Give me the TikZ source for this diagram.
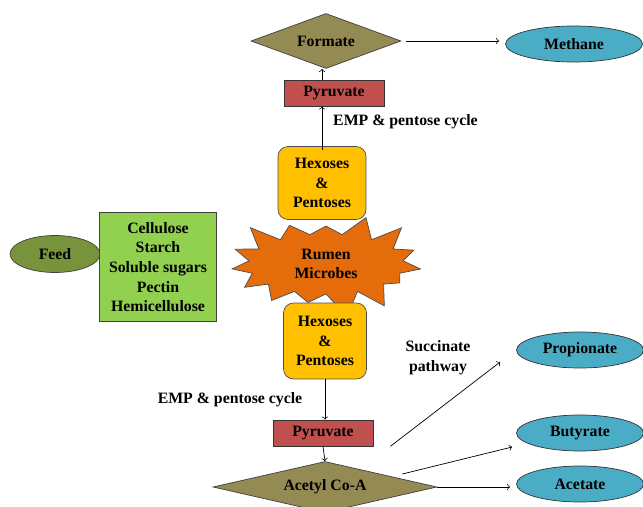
\documentclass[tikz,border=0pt]{standalone}
\usepackage{fontspec}
\setmainfont{Liberation Serif}
\usepackage{tikz}
\usetikzlibrary{shapes.geometric}
\usetikzlibrary{shapes.symbols}
\usetikzlibrary{calc}
\definecolor{tan}{HTML}{948A54}
\definecolor{aqua}{HTML}{4BACC6}
\definecolor{brick}{HTML}{C0504D}
\definecolor{gold}{HTML}{FFC000}
\definecolor{burnt}{HTML}{E46C0A}
\definecolor{olivedark}{HTML}{77933C}
\definecolor{leaf}{HTML}{92D050}
\tikzset{
  every node/.style={font=\fontsize{9}{11.2}\selectfont\bfseries, align=center},
  gem/.style={diamond, draw=black!75, fill=tan, inner sep=0pt},
  product/.style={ellipse, draw=black!80, fill=aqua, inner sep=0pt,
    minimum width=2.54cm, minimum height=0.72cm},
  acid/.style={rectangle, draw=black!80, fill=brick, inner sep=0pt,
    minimum width=2cm, minimum height=0.52cm},
  sugar/.style={rectangle, rounded corners=0.2cm, draw=black!70, fill=gold,
    inner sep=0pt, minimum width=1.7cm, minimum height=1.5cm},
  flow/.style={->, thin, black}
}

\begin{document}
\begin{tikzpicture}[x=0.02cm, y=-0.02cm]
      \useasboundingbox (0,0) rectangle (643,507);
      % upper branch
      \node[gem, aspect=2.7, minimum width=3cm, minimum height=1.1cm] (formate) at (326,41) {Formate};
      \node[product, minimum width=2.74cm] (methane) at (574,44) {Methane};
      \node[acid] (pyrup) at (334,93) {Pyruvate};
      \node[sugar, minimum width=1.76cm, minimum height=1.46cm] (hexup) at (322,183) {Hexoses\\ \&\\ Pentoses};
      % feed
      \node[ellipse, draw=black!75, fill=olivedark, minimum width=1.8cm, minimum height=0.74cm, inner sep=0pt] (feed) at (55,254) {Feed};
      \node[rectangle, draw=black!75, fill=leaf, minimum width=2.34cm, minimum height=2.18cm, inner sep=0pt] (carbs) at (158,267)
        {Cellulose\\ Starch\\ Soluble sugars\\ Pectin\\ Hemicellulose};
      \node[starburst, starburst points=15, random starburst=3, draw=black!70, fill=burnt,
        minimum width=4.1cm, minimum height=2.2cm, inner sep=0pt] (microbes) at (326,264) {Rumen\\ Microbes};
      % lower branch
      \node[sugar, minimum width=1.66cm, minimum height=1.52cm] (hexlow) at (325,341) {Hexoses\\ \&\\ Pentoses};
      \node[acid] (pyrlow) at (323,433) {Pyruvate};
      \node[gem, aspect=4.4, minimum width=4.48cm, minimum height=1.02cm] (acetyl) at (325,487) {Acetyl Co-A};
      \node[product] (prop) at (580,350) {Propionate};
      \node[product] (buty) at (580,433) {Butyrate};
      \node[product] (acet) at (580,484) {Acetate};
      \node[anchor=west] (empup) at (327,122) {EMP \& pentose cycle};
      \node (emplow) at (230,400) {EMP \& pentose cycle};
      \node (succ) at (438,358) {Succinate\\ pathway};
      \coordinate (succ0) at ([xshift=0.34cm]pyrlow.south east);
      \coordinate (succ1) at ([xshift=-0.32cm,yshift=-0.24cm]prop.west);
      \coordinate (buty0) at ([xshift=-0.7cm,yshift=0.26cm]acetyl.east);
      \coordinate (buty1) at ([xshift=-0.08cm,yshift=-0.28cm]buty.west);
      % connectors
      \draw[flow] (formate.east) ++(0.1cm,0) -- ($(formate.east -| methane.west)+(-0.12cm,0)$);
      \draw[flow] (pyrup.north -| hexup.north) -- (formate.south -| hexup.north);
      \draw[flow] ($(hexup.north)+(0,-0.08cm)$) -- (pyrup.south -| hexup.north);
      \draw[flow] (hexlow.south) -- (pyrlow.north -| hexlow.south);
      \draw[flow] (pyrlow.south) -- (acetyl.north);
      \draw[flow] (succ0) -- (succ1);
      \draw[flow] (buty0) -- (buty1);
      \draw[flow] (acetyl.east) -- ([xshift=-0.12cm]acetyl.east -| acet.west);
    \end{tikzpicture}
\end{document}
